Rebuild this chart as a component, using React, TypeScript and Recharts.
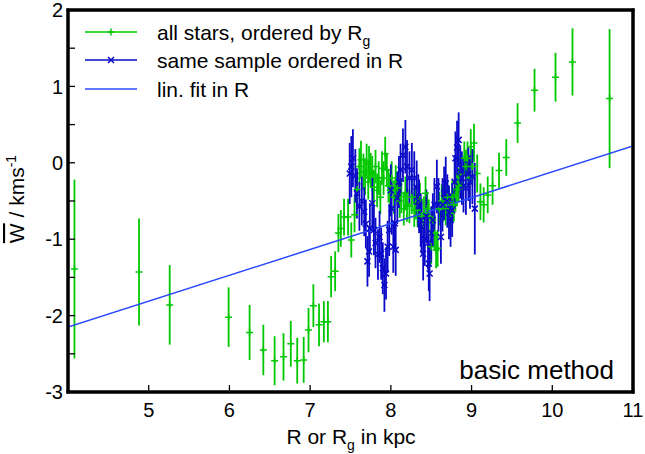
import React from 'react';
import { ComposedChart, Scatter, Line, XAxis, YAxis, ErrorBar, Label, ReferenceArea } from 'recharts';

// all stars, ordered by R_g
const greenX = [4.08, 4.88, 5.26, 5.99, 6.25, 6.42, 6.56, 6.67, 6.76, 6.84, 6.92, 6.98, 7.04, 7.11, 7.17, 7.22, 7.26, 7.31, 7.35, 7.38, 7.42, 7.47, 7.51, 7.55, 7.58, 7.61, 7.63, 7.66, 7.68, 7.70, 7.72, 7.73, 7.75, 7.77, 7.79, 7.81, 7.83, 7.85, 7.87, 7.89, 7.91, 7.93, 7.95, 7.97, 7.99, 8.01, 8.04, 8.06, 8.08, 8.11, 8.13, 8.16, 8.18, 8.20, 8.23, 8.26, 8.29, 8.31, 8.33, 8.36, 8.38, 8.41, 8.43, 8.45, 8.47, 8.50, 8.52, 8.54, 8.56, 8.58, 8.60, 8.63, 8.65, 8.68, 8.70, 8.72, 8.74, 8.76, 8.78, 8.80, 8.82, 8.84, 8.86, 8.88, 8.91, 8.93, 8.95, 8.97, 8.99, 9.01, 9.03, 9.07, 9.11, 9.15, 9.20, 9.26, 9.34, 9.43, 9.57, 9.78, 10.04, 10.25, 10.71];
const greenY = [-1.39, -1.43, -1.86, -2.02, -2.22, -2.45, -2.59, -2.54, -2.37, -2.59, -2.58, -2.19, -1.87, -2.12, -2.08, -2.08, -1.49, -1.42, -0.92, -0.86, -0.71, -0.71, -1.01, -0.68, -0.35, -0.05, 0.04, -0.12, -0.18, 0.02, -0.25, -0.01, -0.10, -0.14, -0.32, -0.05, -0.36, -0.20, -0.45, -0.07, -0.20, 0.12, -0.09, -0.30, -0.36, -0.20, -0.45, -0.25, -0.33, -0.50, -0.44, -0.60, -0.40, -0.55, -0.57, -0.45, -0.62, -0.52, -0.62, -0.48, -0.70, -0.66, -0.40, -0.60, -0.70, -1.10, -0.75, -0.92, -1.14, -1.12, -0.60, -0.50, -0.55, -0.60, -0.45, -0.52, -0.66, -0.45, -0.55, -0.42, -0.35, -0.29, -0.15, -0.30, 0.06, -0.05, 0.06, -0.20, 0.21, -0.05, 0.26, -0.14, -0.51, -0.55, -0.42, -0.30, -0.10, 0.07, 0.52, 0.95, 1.12, 1.32, 0.84];
const greenErr = [1.17, 0.70, 0.52, 0.39, 0.36, 0.33, 0.32, 0.31, 0.30, 0.30, 0.30, 0.29, 0.28, 0.28, 0.27, 0.27, 0.27, 0.26, 0.25, 0.24, 0.24, 0.24, 0.23, 0.23, 0.23, 0.24, 0.25, 0.24, 0.24, 0.23, 0.23, 0.23, 0.23, 0.23, 0.22, 0.22, 0.22, 0.22, 0.22, 0.22, 0.22, 0.22, 0.22, 0.22, 0.22, 0.22, 0.22, 0.22, 0.22, 0.22, 0.22, 0.22, 0.22, 0.22, 0.22, 0.22, 0.22, 0.22, 0.22, 0.22, 0.22, 0.22, 0.22, 0.22, 0.22, 0.23, 0.22, 0.23, 0.24, 0.24, 0.22, 0.22, 0.22, 0.22, 0.22, 0.22, 0.22, 0.22, 0.22, 0.22, 0.22, 0.22, 0.22, 0.22, 0.22, 0.22, 0.22, 0.23, 0.23, 0.23, 0.25, 0.25, 0.24, 0.23, 0.24, 0.25, 0.23, 0.24, 0.26, 0.28, 0.32, 0.44, 0.91];

// same sample ordered in R
const blueX = [7.49, 7.51, 7.53, 7.56, 7.58, 7.61, 7.64, 7.67, 7.69, 7.71, 7.73, 7.74, 7.77, 7.79, 7.81, 7.84, 7.86, 7.88, 7.90, 7.92, 7.94, 7.96, 7.98, 8.00, 8.01, 8.03, 8.05, 8.06, 8.08, 8.10, 8.12, 8.15, 8.18, 8.20, 8.23, 8.26, 8.29, 8.32, 8.34, 8.35, 8.37, 8.38, 8.40, 8.42, 8.44, 8.46, 8.47, 8.48, 8.50, 8.52, 8.54, 8.57, 8.59, 8.62, 8.64, 8.66, 8.68, 8.70, 8.72, 8.74, 8.76, 8.79, 8.80, 8.82, 8.84, 8.86, 8.88, 8.90, 8.93, 8.96, 8.98, 9.01, 9.04];
const blueY = [-0.14, -0.05, 0.06, -0.17, -0.40, -0.57, -0.50, -0.64, -0.80, -1.29, -1.16, -0.86, -0.53, -0.88, -1.05, -1.20, -0.97, -1.19, -1.38, -1.60, -1.45, -1.10, -0.88, -0.36, -0.60, -1.10, -0.79, -1.14, -0.46, -0.25, -0.09, 0.10, 0.21, -0.05, -0.20, -0.09, -0.20, -0.32, -0.50, -0.57, -0.75, -0.84, -1.19, -1.00, -0.70, -1.05, -1.32, -1.45, -0.92, -0.75, -0.55, -0.31, -0.55, -0.97, -0.55, -0.40, -0.27, -0.50, -0.65, -0.75, -0.62, -0.25, 0.06, 0.20, 0.30, -0.12, -0.20, -0.30, -0.33, -0.15, -0.25, -0.18, -0.60];
const blueErr = [0.40, 0.40, 0.38, 0.35, 0.33, 0.32, 0.32, 0.32, 0.32, 0.33, 0.33, 0.33, 0.33, 0.33, 0.33, 0.33, 0.34, 0.34, 0.34, 0.35, 0.34, 0.34, 0.34, 0.34, 0.34, 0.34, 0.34, 0.34, 0.34, 0.34, 0.34, 0.35, 0.35, 0.35, 0.35, 0.35, 0.35, 0.35, 0.35, 0.35, 0.35, 0.35, 0.35, 0.35, 0.35, 0.35, 0.36, 0.36, 0.35, 0.35, 0.35, 0.35, 0.35, 0.35, 0.35, 0.35, 0.35, 0.35, 0.35, 0.35, 0.35, 0.35, 0.35, 0.35, 0.36, 0.35, 0.35, 0.35, 0.35, 0.35, 0.35, 0.36, 0.60];

// lin. fit in R (end points)
const fitX = [4, 11];
const fitY = [-2.15, 0.22];

const xTicks = [5, 6, 7, 8, 9, 10, 11];
const yTicks = [-3, -2.5, -2, -1.5, -1, -0.5, 0, 0.5, 1, 1.5, 2];
const xDomain = [4, 11];
const yDomain = [-3, 2];

const legendLabels = ['all stars, ordered by R', 'same sample ordered in R', 'lin. fit in R'];
const cornerLabel = 'basic method';

const GREEN = '#00c800';
const BLUE = '#0a0ac8';
const FIT = '#2a4bff';
const FONT = "'Liberation Sans', Arial, Helvetica, sans-serif";

const greenData = greenX.map((x, i) => ({ x, y: greenY[i], err: greenErr[i] }));
const blueData = blueX.map((x, i) => ({ x, y: blueY[i], err: blueErr[i] }));
const fitData = fitX.map((x, i) => ({ x, y: fitY[i] }));

const PlusShape = (props: any) => {
  const { cx, cy } = props;
  if (cx == null || cy == null) return null;
  const s = 3.5;
  return <path d={`M${cx - s},${cy}H${cx + s}M${cx},${cy - s}V${cy + s}`} stroke={GREEN} strokeWidth={1.5} fill="none" />;
};

const CrossShape = (props: any) => {
  const { cx, cy } = props;
  if (cx == null || cy == null) return null;
  const s = 3;
  return <path d={`M${cx - s},${cy - s}L${cx + s},${cy + s}M${cx - s},${cy + s}L${cx + s},${cy - s}`} stroke={BLUE} strokeWidth={1.5} fill="none" />;
};

const axisLineStyle = { stroke: '#000', strokeWidth: 3, strokeLinecap: 'square' as const };
const tickLineStyle = { stroke: '#000', strokeWidth: 1.3 };

export default function App() {
  const rows = [32, 60, 89];
  return (
    <div style={{ position: 'absolute', left: 0, top: 0, width: 645, height: 454, background: '#fff' }}>
      <ComposedChart width={645} height={454} margin={{ top: 9, right: 11, bottom: 0, left: 0 }}>
        <XAxis
          xAxisId="b"
          dataKey="x"
          type="number"
          orientation="bottom"
          domain={xDomain}
          ticks={xTicks}
          interval={0}
          allowDataOverflow
          height={62}
          stroke="#000"
          axisLine={axisLineStyle}
          tickLine={tickLineStyle}
          tickSize={-7}
          tickMargin={18}
          tick={{ fill: '#000', fontSize: 20, fontFamily: FONT }}
        >
          <Label
            content={() => (
              <text x={351} y={444} textAnchor="middle" fontSize={21} fontFamily={FONT} fill="#000">
                R or R<tspan fontSize={14} dy={6}>g</tspan><tspan dy={-6}> in kpc</tspan>
              </text>
            )}
          />
        </XAxis>
        <XAxis
          xAxisId="t"
          dataKey="x"
          type="number"
          orientation="top"
          domain={xDomain}
          ticks={xTicks}
          interval={0}
          allowDataOverflow
          height={1}
          stroke="#000"
          axisLine={axisLineStyle}
          tickLine={tickLineStyle}
          tickSize={-7}
          tick={false}
        />
        <YAxis
          yAxisId="l"
          dataKey="y"
          type="number"
          orientation="left"
          domain={yDomain}
          ticks={yTicks}
          interval={0}
          allowDataOverflow
          width={68}
          stroke="#000"
          axisLine={axisLineStyle}
          tickLine={tickLineStyle}
          tickSize={-7}
          tickMargin={12}
          tickFormatter={(v: number) => (Number.isInteger(v) ? String(v) : '')}
          tick={{ fill: '#000', fontSize: 20, fontFamily: FONT }}
        >
          <Label
            content={() => (
              <text x={0} y={0} transform="translate(24,199) rotate(-90)" textAnchor="middle" fontSize={21} fontFamily={FONT} fill="#000">
                <tspan textDecoration="overline" style={{ textDecoration: 'overline' }}>W</tspan> / kms<tspan fontSize={14} dy={-8}>-1</tspan>
              </text>
            )}
          />
        </YAxis>
        <YAxis
          yAxisId="r"
          dataKey="y"
          type="number"
          orientation="right"
          domain={yDomain}
          ticks={yTicks}
          interval={0}
          allowDataOverflow
          width={1}
          stroke="#000"
          axisLine={axisLineStyle}
          tickLine={tickLineStyle}
          tickSize={-7}
          tick={false}
        />
        <Scatter data={greenData} xAxisId="b" yAxisId="l" dataKey="y" shape={<PlusShape />} isAnimationActive={false}>
          <ErrorBar dataKey="err" direction="y" width={0} stroke={GREEN} strokeWidth={1.8} isAnimationActive={false} />
        </Scatter>
        <Scatter data={blueData} xAxisId="b" yAxisId="l" dataKey="y" shape={<CrossShape />} isAnimationActive={false}>
          <ErrorBar dataKey="err" direction="y" width={0} stroke={BLUE} strokeWidth={1.8} isAnimationActive={false} />
        </Scatter>
        <Line data={fitData} xAxisId="b" yAxisId="l" dataKey="y" type="linear" stroke={FIT} strokeWidth={1.5} dot={false} activeDot={false} isAnimationActive={false} />
        <ReferenceArea xAxisId="b" yAxisId="l" x1={xDomain[0]} x2={xDomain[1]} y1={yDomain[0]} y2={yDomain[1]} fill="none" fillOpacity={0} stroke="#000" strokeWidth={3} ifOverflow="visible" />
      </ComposedChart>
      <svg width={645} height={454} style={{ position: 'absolute', left: 0, top: 0, pointerEvents: 'none' }}>
        {rows.map((cy, i) => (
          <g key={i}>
            <line x1={85} x2={137} y1={cy} y2={cy} stroke={i === 0 ? GREEN : i === 1 ? BLUE : FIT} strokeWidth={1.5} />
            {i === 0 && <PlusShape cx={111} cy={cy} />}
            {i === 1 && <CrossShape cx={111} cy={cy} />}
            <text x={157} y={cy + 7.5} fontSize={21} fontFamily={FONT} fill="#000">
              {legendLabels[i]}
              {i === 0 && <tspan fontSize={14} dy={6}>g</tspan>}
            </text>
          </g>
        ))}
        <text x={614} y={379} textAnchor="end" fontSize={26} fontFamily={FONT} fill="#000">{cornerLabel}</text>
      </svg>
    </div>
  );
}
